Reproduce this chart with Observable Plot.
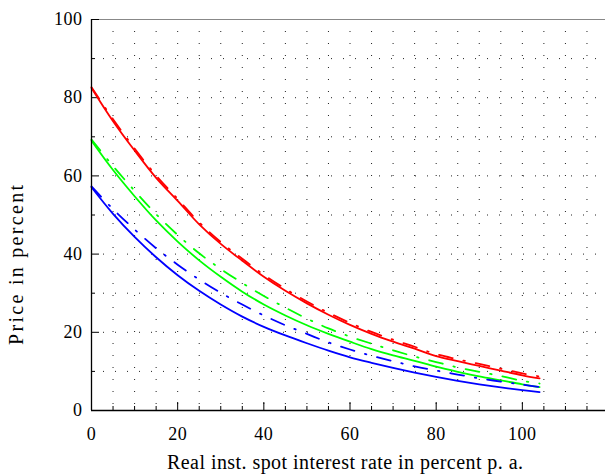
<!DOCTYPE html>
<html>
<head>
<meta charset="utf-8">
<script src="https://cdn.jsdelivr.net/npm/d3@7"></script>
<script src="https://cdn.jsdelivr.net/npm/@observablehq/plot@0.6"></script>
<style>
  html, body { margin: 0; padding: 0; background: #fff; overflow: hidden; }
  #chart svg { display: block; }
  #chart svg text { font-family: "Liberation Serif", "Times New Roman", serif; }
</style>
</head>
<body>
<div id="chart"></div>
<script>
// Interest rate (x, percent p.a.)
const rates = [0, 5, 10, 15, 20, 25, 30, 35, 40, 45, 50, 55, 60, 65, 70, 75, 80, 85, 90, 95, 100, 104];
// Prices in percent
const redSolid   = [82.5, 74.0, 66.5, 59.5, 53.6, 47.6, 42.6, 38.3, 34.2, 30.6, 27.4, 24.5, 21.9, 19.6, 17.6, 15.8, 13.9, 12.6, 11.4, 10.2, 9.0, 8.2];
const redDashDot = [82.7, 74.5, 67.0, 60.1, 54.1, 48.1, 43.1, 38.8, 34.7, 31.1, 27.9, 25.0, 22.4, 20.1, 18.1, 16.3, 14.4, 13.1, 11.9, 10.7, 9.5, 8.7];
const greenSolid   = [69.0, 61.5, 54.8, 48.6, 43.2, 38.4, 34.2, 30.4, 27.1, 24.3, 21.8, 19.6, 17.6, 15.7, 14.1, 12.7, 11.2, 9.9, 8.7, 7.7, 6.7, 6.0];
const greenDashDot = [69.3, 62.5, 56.2, 50.2, 44.9, 40.2, 36.2, 32.6, 29.3, 26.3, 23.5, 21.0, 18.9, 17.1, 15.4, 13.8, 12.4, 11.0, 9.9, 8.8, 7.6, 6.9];
const blueSolid   = [57.1, 50.3, 44.4, 39.2, 34.6, 30.6, 27.1, 24.0, 21.4, 19.2, 17.2, 15.3, 13.6, 12.2, 10.9, 9.7, 8.6, 7.6, 6.7, 5.9, 5.2, 4.7];
const blueDashDot = [57.3, 51.5, 46.3, 41.5, 37.3, 33.5, 30.1, 27.1, 24.3, 21.8, 19.6, 17.4, 15.6, 14.0, 12.6, 11.3, 10.2, 9.2, 8.2, 7.4, 6.6, 6.0];

const xMajor = [0, 20, 40, 60, 80, 100];
const xMinor = [5, 10, 15, 25, 30, 35, 45, 50, 55, 65, 70, 75, 85, 90, 95, 105, 110, 115];
const yMajor = [0, 20, 40, 60, 80, 100];
const yMinor = [10, 30, 50, 70, 90];
const xGrid = [5, 10, 15, 20, 25, 30, 35, 40, 45, 50, 55, 60, 65, 70, 75, 80, 85, 90, 95, 100, 105, 110, 115];
const yGrid = [10, 20, 30, 40, 50, 60, 70, 80, 90];

const xTitle = "Real inst. spot interest rate in percent p. a.";
const yTitle = "Price in percent";

const series = [
  {values: redSolid, color: "#ff0000", dash: null},
  {values: redDashDot, color: "#ff0000", dash: "14,11,1.5,11"},
  {values: greenSolid, color: "#00ff00", dash: null},
  {values: greenDashDot, color: "#00ff00", dash: "14,11,1.5,11"},
  {values: blueSolid, color: "#0000ff", dash: null},
  {values: blueDashDot, color: "#0000ff", dash: "14,11,1.5,11"}
];

const lineMarks = series.map(s => Plot.line(
  s.values.map((v, i) => ({x: rates[i], y: v})),
  {x: "x", y: "y", stroke: s.color, strokeWidth: 1.8, strokeDasharray: s.dash, curve: "catmull-rom"}
));

const W = 605, H = 476;
const chart = Plot.plot({
  width: W, height: H,
  marginLeft: 91, marginRight: 0, marginTop: 19, marginBottom: 66,
  x: {domain: [0, 119.3]},
  y: {domain: [0, 100]},
  style: {fontFamily: "Liberation Serif", fontSize: "18px", background: "#fff", color: "#000"},
  marks: [
    Plot.ruleX(xGrid, {stroke: "#222", strokeWidth: 1, strokeDasharray: "1,11"}),
    Plot.ruleY(yGrid, {stroke: "#222", strokeWidth: 1, strokeDasharray: "1,11"}),
    Plot.ruleY([100], {stroke: "#888", strokeWidth: 1.2}),
    Plot.ruleX(xMajor, {y1: 0, y2: 0, insetBottom: 8, stroke: "#000"}),
    Plot.ruleX(xMinor, {y1: 0, y2: 0, insetBottom: 4, stroke: "#000"}),
    Plot.ruleY(yMajor, {x1: 0, x2: 0, insetRight: -8, stroke: "#000"}),
    Plot.ruleY(yMinor, {x1: 0, x2: 0, insetRight: -4, stroke: "#000"}),
    ...lineMarks,
    Plot.ruleX([0], {stroke: "#000", strokeWidth: 1.3}),
    Plot.ruleY([0], {stroke: "#000", strokeWidth: 1.3}),
    Plot.axisX({ticks: xMajor, tickSize: 0, tickPadding: 17, label: null, fontSize: 18, fontVariant: "normal"}),
    Plot.axisY({ticks: yMajor, tickSize: 0, tickPadding: 9, label: null, fontSize: 18, fontVariant: "normal"})
  ]
});

const svg = d3.select(chart);
svg.selectAll("g[aria-label$='tick label'] text").style("letter-spacing", "0.5px");
svg.append("text")
  .attr("x", 345).attr("y", 469)
  .attr("text-anchor", "middle")
  .attr("font-size", 20)
  .attr("fill", "#000")
  .attr("textLength", 356)
  .attr("lengthAdjust", "spacing")
  .text(xTitle);
svg.append("text")
  .attr("transform", "translate(23,265) rotate(-90)")
  .attr("text-anchor", "middle")
  .attr("font-size", 20)
  .attr("fill", "#000")
  .attr("textLength", 160)
  .attr("lengthAdjust", "spacing")
  .text(yTitle);

document.getElementById("chart").appendChild(chart);
</script>
</body>
</html>
